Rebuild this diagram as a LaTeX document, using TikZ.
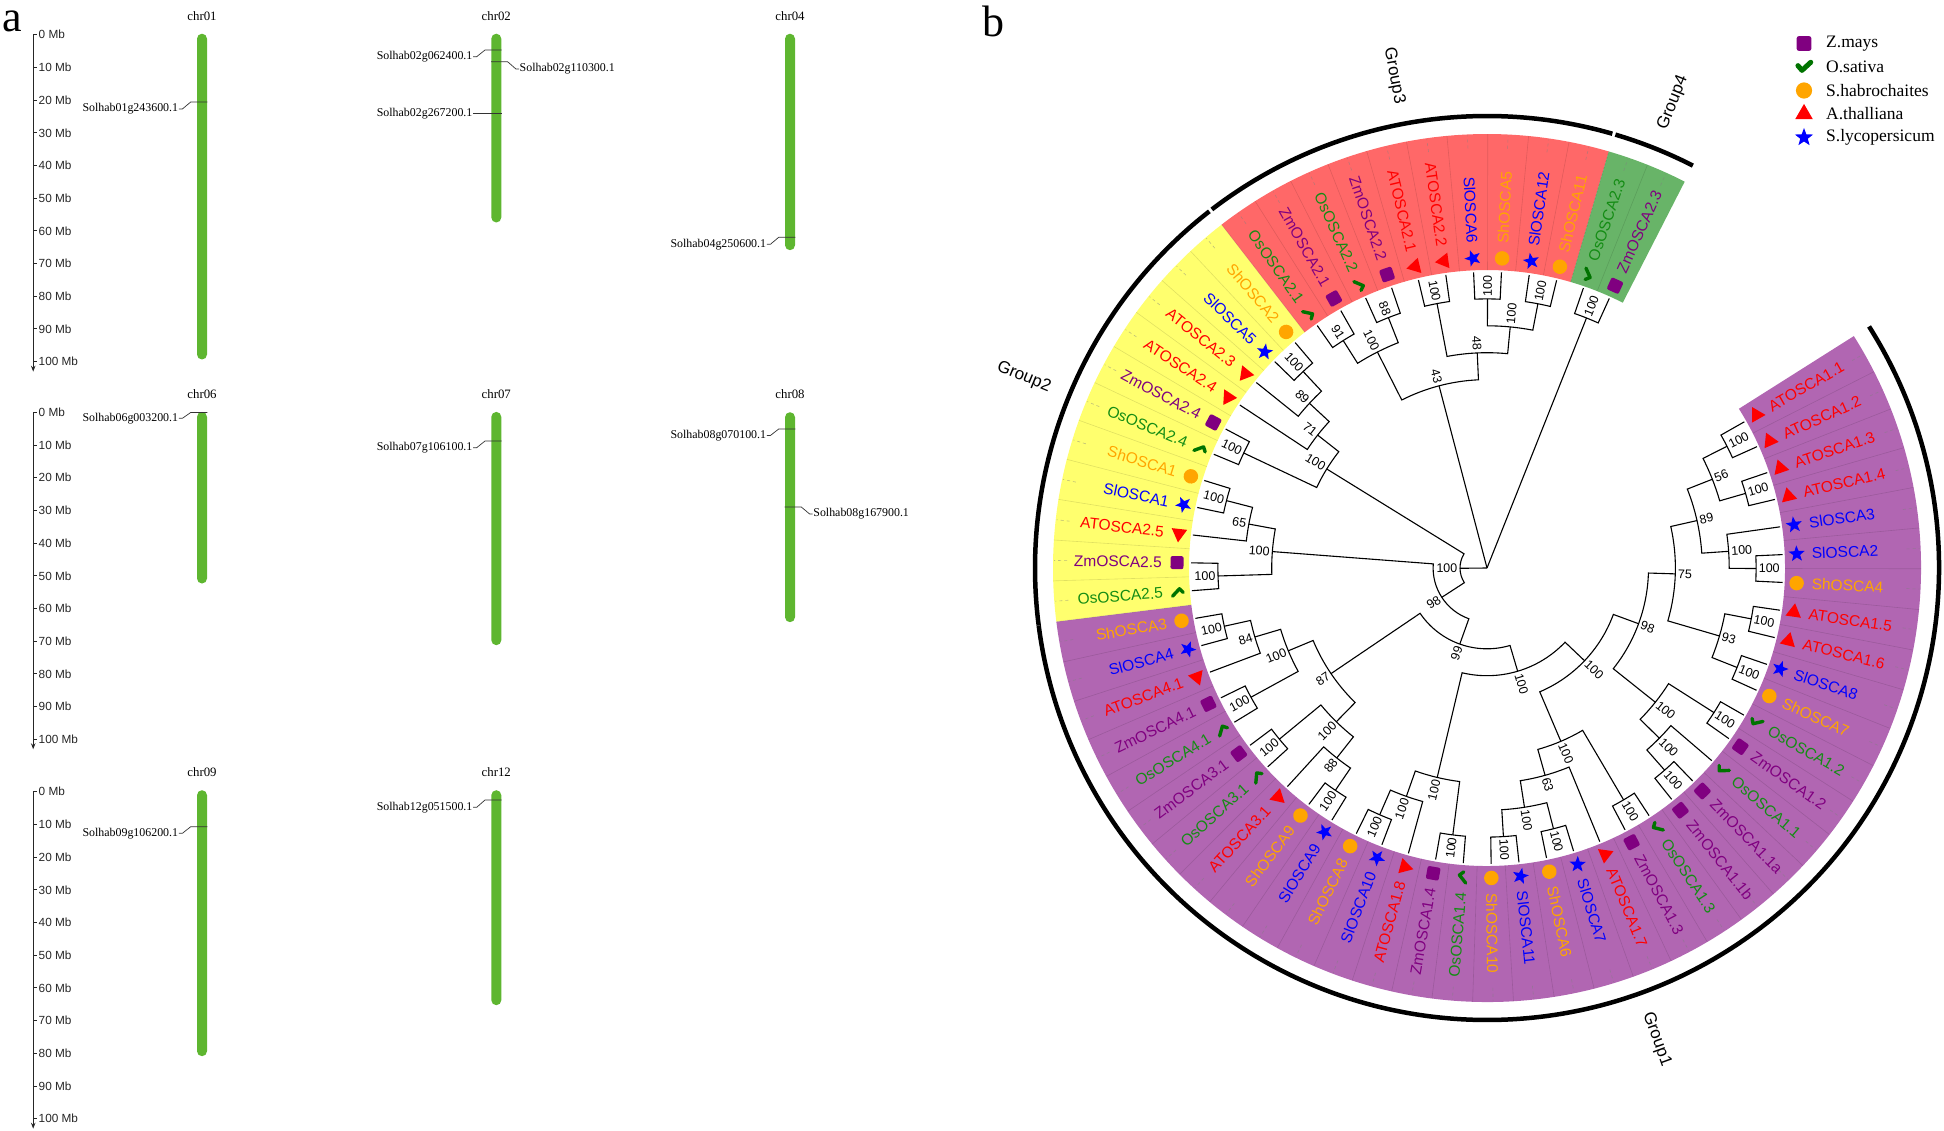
\documentclass[tikz,border=0pt]{standalone}
\usepackage{fontspec}
\setmainfont{Liberation Serif}
\setsansfont{Liberation Sans}
\usetikzlibrary{positioning, arrows.meta, shapes.geometric}

\definecolor{chrgreen}{RGB}{94,182,48}
\definecolor{zmpurple}{RGB}{128,0,128}
\definecolor{osgreen}{RGB}{20,140,20}
\definecolor{oscheck}{RGB}{0,115,0}
\definecolor{shorange}{RGB}{255,165,0}
\definecolor{atred}{RGB}{255,0,0}
\definecolor{slblue}{RGB}{0,0,255}
\definecolor{bandpurple}{RGB}{177,102,178}
\definecolor{bandyellow}{RGB}{255,255,110}
\definecolor{bandred}{RGB}{255,104,104}
\definecolor{bandgreen}{RGB}{104,180,104}

% coloured ring sector behind the leaves
\newcommand{\band}[3]{\fill[#1] (#2:298) arc[start angle=#2, end angle=#3, radius=298pt] -- (#3:434) arc[start angle=#3, end angle=#2, radius=434pt] -- cycle;}

\begin{document}
\begin{tikzpicture}[
		x=1pt, y=1pt, >=Stealth,
		% Define styles
		axis/.style={line width=1pt, black!85},
		mbtext/.style={font=\sffamily\fontsize{11.8}{12}\selectfont, inner sep=1.5pt},
		chrom/.style={rectangle, rounded corners=5pt, fill=chrgreen, minimum width=10pt, inner sep=0pt},
		chrname/.style={font=\fontsize{12.8}{13}\selectfont, inner sep=0pt},
		gene/.style={font=\fontsize{11.9}{12}\selectfont, inner sep=0.5pt},
		genemark/.style={line width=0.7pt, black!80},
		panel/.style={font=\fontsize{44}{44}\selectfont, inner sep=0pt},
		branch/.style={line width=1.1pt, black},
		boot/.style={font=\sffamily\fontsize{12.5}{13}\selectfont, inner sep=0.5pt},
		leaf/.style={font=\sffamily\fontsize{15.5}{16}\selectfont, inner sep=0pt},
		sp-at/.style={text=atred},
		sp-sl/.style={text=slblue},
		sp-sh/.style={text=shorange},
		sp-zm/.style={text=zmpurple},
		sp-os/.style={text=osgreen},
		sym-at/.style={regular polygon, regular polygon sides=3, fill=atred, minimum size=18pt, inner sep=0pt},
		sym-sl/.style={star, star points=5, star point ratio=2.4, fill=slblue, minimum size=17pt, inner sep=0pt},
		sym-sh/.style={circle, fill=shorange, minimum size=14.5pt, inner sep=0pt},
		sym-zm/.style={rectangle, rounded corners=2pt, fill=zmpurple, minimum size=13pt, inner sep=0pt},
		sym-os/.style={circle, minimum size=14pt, inner sep=0pt},
		mark-at/.style={}, mark-sl/.style={}, mark-sh/.style={}, mark-zm/.style={},
		mark-os/.style={draw=oscheck, line width=3.4pt, line cap=round, line join=round},
		bandsep/.style={line width=0.6pt, black, opacity=0.12},
		leafdash/.style={line width=0.6pt, gray, opacity=0.5, dash pattern=on 3pt off 3pt},
		grparc/.style={line width=4.5pt, black},
		grplabel/.style={font=\sffamily\fontsize{17}{18}\selectfont, inner sep=0pt},
		legtext/.style={font=\fontsize{17.5}{18}\selectfont, inner sep=0pt}
		]
		\useasboundingbox (0,0) rectangle (1944,-1131);
		
		% 1. Panel letters
		\node[panel, anchor=base west] (pa) at (2,-32) {a};
		\node[panel, anchor=base west] (pb) at (982,-36.5) {b};
		
		% 2. Mb axes, one per row
		\foreach \y [count=\row] in {34.7, 412.3, 791.7}{
			\draw[axis, -{Stealth[length=6pt, width=4.5pt]}] (33.2,-\y) -- ++(0,-337);
			\foreach \m in {0,10,...,100}{
				\draw[axis] (33.2,{-\y-3.27*\m}) -- ++(3.5,0) node[mbtext, anchor=west] (mb\row-\m) {\m\ Mb};
			}
		}
		
		% 3. Chromosomes
		\foreach \nm/\cx/\top/\bot in {01/202/33.5/359.3, 02/496.3/33.5/222.3, 04/790/33.5/250,
			06/202/411.7/583.3, 07/496.3/411.7/645, 08/790/412/622,
			09/202/790/1056, 12/496.3/790/1005}{
			\pgfmathsetmacro\hh{\bot-\top}
			\node[chrom, minimum height=\hh pt, anchor=north] (chr\nm) at (\cx,-\top) {};
			\node[chrname, above=13pt of chr\nm] (name\nm) {chr\nm};
		}
		
		% 4. Gene positions
		\foreach \cx/\my/\ly/\sd/\gn [count=\k] in {
			202/102/109/l/Solhab01g243600.1,
			496.3/50/56.7/l/Solhab02g062400.1,
			496.3/61.7/69/r/Solhab02g110300.1,
			496.3/113.3/113.3/l/Solhab02g267200.1,
			790/237.3/244.3/l/Solhab04g250600.1,
			202/412.5/418.3/l/Solhab06g003200.1,
			496.3/441/447.7/l/Solhab07g106100.1,
			790/429/435.5/l/Solhab08g070100.1,
			790/507/514/r/Solhab08g167900.1,
			202/826.7/833.3/l/Solhab09g106200.1,
			496.3/800/807.3/l/Solhab12g051500.1}{
			\if\sd l
			\node[gene, anchor=east] (gene\k) at (\cx-23.2,-\ly) {\gn};
			\draw[genemark] (gene\k.east) -- (\cx-19.6,-\ly) -- (\cx-11.3,-\my) -- (\cx+5.3,-\my);
			\else
			\node[gene, anchor=west] (gene\k) at (\cx+22.7,-\ly) {\gn};
			\draw[genemark] (gene\k.west) -- (\cx+19.6,-\ly) -- (\cx+11.3,-\my) -- (\cx-5.3,-\my);
			\fi
		}
		
		% 5. Circular tree
		\begin{scope}[shift={(1487,-568)}]
			% group bands
			\band{bandpurple}{-172.9}{32.3}
			\band{bandyellow}{127.7}{187.1}
			\band{bandred}{73.7}{127.7}
			\band{bandgreen}{62.9}{73.7}
			
			% leaves
			\foreach \nm/\sp [count=\i from 0] in {
				ATOSCA1.1/at, ATOSCA1.2/at, ATOSCA1.3/at, ATOSCA1.4/at, SlOSCA3/sl, SlOSCA2/sl,
				ShOSCA4/sh, ATOSCA1.5/at, ATOSCA1.6/at, SlOSCA8/sl, ShOSCA7/sh, OsOSCA1.2/os,
				ZmOSCA1.2/zm, OsOSCA1.1/os, ZmOSCA1.1a/zm, ZmOSCA1.1b/zm, OsOSCA1.3/os, ZmOSCA1.3/zm,
				ATOSCA1.7/at, SlOSCA7/sl, ShOSCA6/sh, SlOSCA11/sl, ShOSCA10/sh, OsOSCA1.4/os,
				ZmOSCA1.4/zm, ATOSCA1.8/at, SlOSCA10/sl, ShOSCA8/sh, SlOSCA9/sl, ShOSCA9/sh,
				ATOSCA3.1/at, OsOSCA3.1/os, ZmOSCA3.1/zm, OsOSCA4.1/os, ZmOSCA4.1/zm, ATOSCA4.1/at,
				SlOSCA4/sl, ShOSCA3/sh, OsOSCA2.5/os, ZmOSCA2.5/zm, ATOSCA2.5/at, SlOSCA1/sl,
				ShOSCA1/sh, OsOSCA2.4/os, ZmOSCA2.4/zm, ATOSCA2.4/at, ATOSCA2.3/at, SlOSCA5/sl,
				ShOSCA2/sh, OsOSCA2.1/os, ZmOSCA2.1/zm, OsOSCA2.2/os, ZmOSCA2.2/zm, ATOSCA2.1/at,
				ATOSCA2.2/at, SlOSCA6/sl, ShOSCA5/sh, SlOSCA12/sl, ShOSCA11/sh, OsOSCA2.3/os,
				ZmOSCA2.3/zm}{
				\pgfmathsetmacro\ang{29.6-5.4*\i}
				\ifnum\i>0
				\draw[bandsep] (\ang+2.7:298) -- (\ang+2.7:434);
				\fi
				\draw[leafdash] (\ang:420) -- (\ang:433);
				\node[sym-\sp, rotate=\ang] (sym\i) at (\ang:310) {};
				\path[mark-\sp, shift={(\ang:310)}, rotate=\ang, scale=1.15] (-4.5,1) -- (-1.5,-2.5) -- (5,3.5);
				\pgfmathtruncatemacro\lft{cos(\ang)<0}
				\ifnum\lft=1
				\node[leaf, sp-\sp, anchor=east, rotate=\ang+180] (leaf\i) at (\ang:325) {\nm};
				\else
				\node[leaf, sp-\sp, anchor=west, rotate=\ang] (leaf\i) at (\ang:325) {\nm};
				\fi
			}
			
			% internal nodes: level/angle/child a/level a/child b/level b/support
			\foreach \h/\na/\ca/\ha/\cb/\hb/\bsv [count=\k] in {
				1/26.9/29.6/0/24.2/0/100, 1/16.1/18.8/0/13.4/0/100, 2/21.5/26.9/1/16.1/1/56,
				1/-0.1/2.6/0/-2.8/0/100, 2/3.95/8.0/0/-0.1/1/100, 3/12.725/21.5/2/3.95/2/89,
				1/-10.9/-8.2/0/-13.6/0/100, 1/-21.7/-19.0/0/-24.4/0/100, 2/-16.3/-10.9/1/-21.7/1/93,
				4/-1.7875/12.725/3/-16.3/2/75,
				1/-32.5/-29.8/0/-35.2/0/100, 1/-48.7/-46.0/0/-51.4/0/100, 2/-44.65/-40.6/0/-48.7/1/100,
				3/-38.575/-32.5/1/-44.65/2/100, 5/-20.18/-1.7875/4/-38.575/3/98,
				1/-59.5/-56.8/0/-62.2/0/100, 1/-75.7/-73.0/0/-78.4/0/100, 1/-86.5/-83.8/0/-89.2/0/100,
				2/-81.1/-75.7/1/-86.5/1/100, 3/-74.35/-67.6/0/-81.1/2/63, 4/-66.925/-59.5/1/-74.35/3/100,
				6/-43.55/-20.18/5/-66.925/4/100,
				1/-97.3/-94.6/0/-100.0/0/100, 1/-113.5/-110.8/0/-116.2/0/100, 2/-109.45/-105.4/0/-113.5/1/100,
				3/-103.375/-97.3/1/-109.45/2/100, 7/-73.46/-43.55/6/-103.375/3/100,
				1/-124.3/-121.6/0/-127.0/0/100, 2/-128.35/-124.3/1/-132.4/0/88, 1/-140.5/-137.8/0/-143.2/0/100,
				3/-134.425/-128.35/2/-140.5/1/100, 1/-151.3/-148.6/0/-154.0/0/100, 1/-167.5/-164.8/0/-170.2/0/100,
				2/-163.45/-159.4/0/-167.5/1/84, 3/-157.375/-151.3/1/-163.45/2/100, 4/-145.9/-134.425/3/-157.375/3/87,
				8/-109.68/-73.46/7/-145.9/4/99,
				1/181.7/184.4/0/179.0/0/100, 1/165.5/168.2/0/162.8/0/100, 2/169.55/165.5/1/173.6/0/65,
				3/175.625/169.55/2/181.7/1/100, 1/133.1/135.8/0/130.4/0/100, 2/137.15/133.1/1/141.2/0/89,
				3/141.875/137.15/2/146.6/0/71, 1/154.7/157.4/0/152.0/0/100, 4/148.29/141.875/3/154.7/1/100,
				9/212.97/175.625/3/250.32/8/98, 10/180.63/148.29/4/212.97/9/100,
				1/122.3/125.0/0/119.6/0/91, 1/111.5/114.2/0/108.8/0/88, 2/116.9/122.3/1/111.5/1/100,
				1/100.7/103.4/0/98.0/0/100, 1/89.9/92.6/0/87.2/0/100, 1/79.1/81.8/0/76.4/0/100,
				2/84.5/89.9/1/79.1/1/100, 3/92.6/100.7/1/84.5/2/48, 4/104.75/116.9/2/92.6/3/43,
				1/68.3/71.0/0/65.6/0/100}{
				\pgfmathsetmacro\rn{296-26.9*\h}
				\pgfmathsetmacro\ra{296-26.9*\ha}
				\pgfmathsetmacro\rb{296-26.9*\hb}
				\draw[branch] (\ca:\ra) -- (\ca:\rn) arc[start angle=\ca, end angle=\cb, radius=\rn pt] -- (\cb:\rb);
				\pgfmathsetmacro\rl{\rn+2}
				\pgfmathtruncatemacro\lft{cos(\na)<0}
				\ifnum\lft=1
				\node[boot, anchor=east, rotate=\na+180] (bs\k) at (\na:\rl) {\bsv};
				\else
				\node[boot, anchor=west, rotate=\na] (bs\k) at (\na:\rl) {\bsv};
				\fi
			}
			% root
			\coordinate (root) at (0,0);
			\draw[branch] (root) -- (180.63:27);
			\draw[branch] (root) -- (104.75:188.4);
			\draw[branch] (root) -- (68.3:269.1);
			
			% 6. Group arcs
			\draw[grparc] (32.3:452) arc[start angle=32.3, end angle=-172.7, radius=452pt];
			\draw[grparc] (187.3:452) arc[start angle=187.3, end angle=127.9, radius=452pt];
			\draw[grparc] (127.5:452) arc[start angle=127.5, end angle=73.9, radius=452pt];
			\draw[grparc] (73.5:452) arc[start angle=73.5, end angle=62.9, radius=452pt];
			\node[grplabel, rotate=-70.2] (grp1) at (-70.2:501) {Group1};
			\node[grplabel, rotate=-22.4] (grp2) at (157.6:501) {Group2};
			\node[grplabel, rotate=-79.3] (grp3) at (100.7:501) {Group3};
			\node[grplabel, rotate=68.2] (grp4) at (68.2:501) {Group4};
		\end{scope}
		
		% 7. Legend
		\foreach \sp/\txt [count=\k from 0] in {zm/Z.mays, os/O.sativa, sh/S.habrochaites, at/A.thalliana, sl/S.lycopersicum}{
			\node[sym-\sp, scale=1.12] (key\sp) at (1804,{-43.5-23.5*\k}) {};
			\path[mark-\sp, line width=5pt, shift={(key\sp.center)}, scale=1.35] (-4.5,1) -- (-1.5,-2.5) -- (5,3.5);
			\node[legtext, right=22pt of key\sp.center] (lab\sp) {\txt};
		}
		
	\end{tikzpicture}
\end{document}
